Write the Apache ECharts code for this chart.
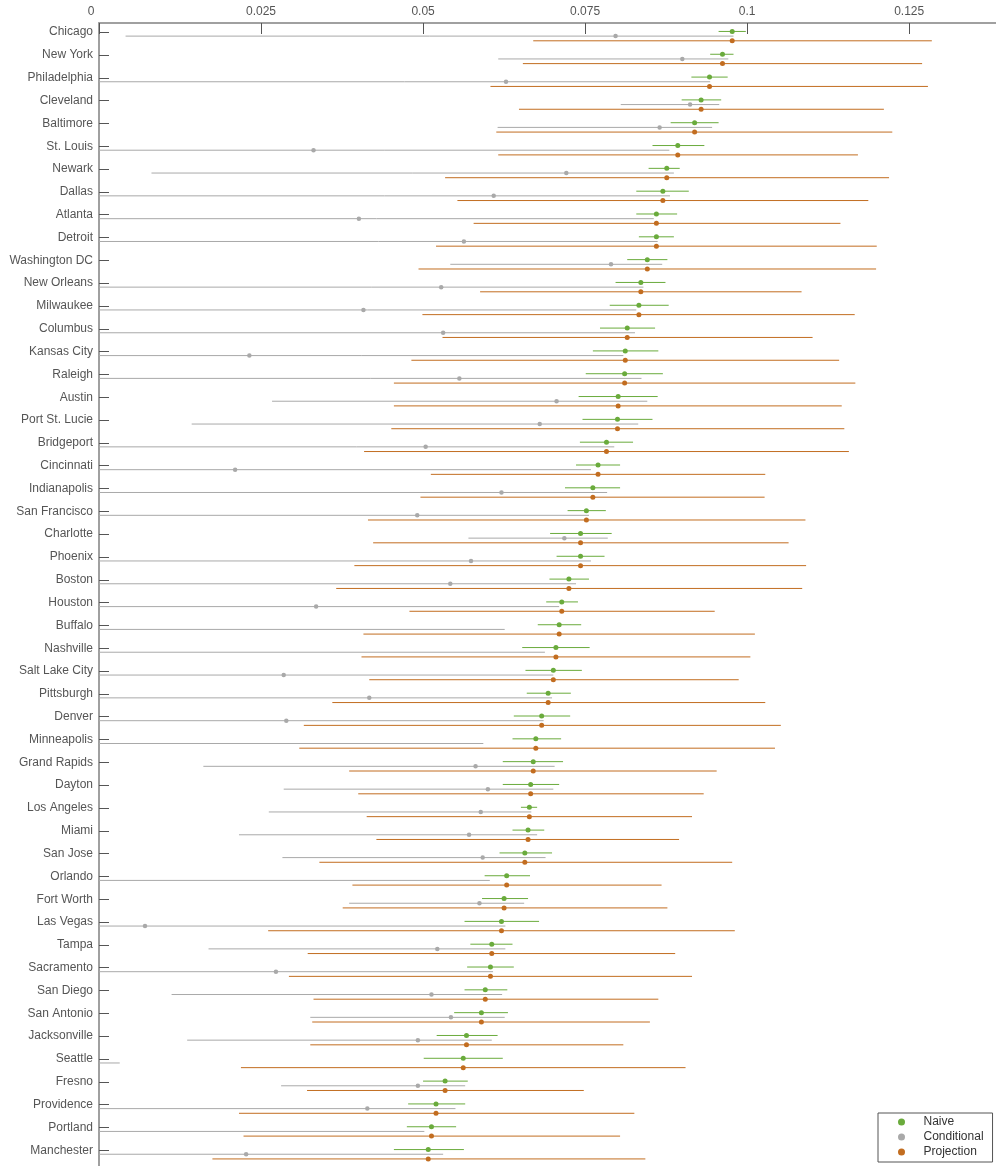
<!DOCTYPE html>
<html><head><meta charset="utf-8">
<script src="https://cdn.jsdelivr.net/npm/echarts@6/dist/echarts.min.js"></script>
<style>html,body{margin:0;padding:0;background:#fff}#c{width:996px;height:1166px}</style>
</head><body><div id="c"></div>
<script>
const cities = ['Chicago','New York','Philadelphia','Cleveland','Baltimore','St. Louis','Newark','Dallas','Atlanta','Detroit','Washington DC','New Orleans','Milwaukee','Columbus','Kansas City','Raleigh','Austin','Port St. Lucie','Bridgeport','Cincinnati','Indianapolis','San Francisco','Charlotte','Phoenix','Boston','Houston','Buffalo','Nashville','Salt Lake City','Pittsburgh','Denver','Minneapolis','Grand Rapids','Dayton','Los Angeles','Miami','San Jose','Orlando','Fort Worth','Las Vegas','Tampa','Sacramento','San Diego','San Antonio','Jacksonville','Seattle','Fresno','Providence','Portland','Manchester'];

const naiveEst = [0.0977,0.0962,0.0942,0.0929,0.0919,0.0893,0.0876,0.0870,0.0860,0.0860,0.0846,0.0836,0.0833,0.0815,0.0812,0.0811,0.0801,0.0800,0.0783,0.0770,0.0762,0.0752,0.0743,0.0743,0.0725,0.0714,0.0710,0.0705,0.0701,0.0693,0.0683,0.0674,0.0670,0.0666,0.0664,0.0662,0.0657,0.0629,0.0625,0.0621,0.0606,0.0604,0.0596,0.0590,0.0567,0.0562,0.0534,0.0520,0.0513,0.0508];
const naiveLo = [0.0956,0.0943,0.0914,0.0899,0.0882,0.0854,0.0848,0.0829,0.0829,0.0833,0.0815,0.0797,0.0788,0.0773,0.0762,0.0751,0.0740,0.0746,0.0742,0.0736,0.0719,0.0723,0.0696,0.0706,0.0695,0.0690,0.0677,0.0653,0.0658,0.0660,0.0640,0.0638,0.0623,0.0623,0.0651,0.0638,0.0618,0.0595,0.0591,0.0564,0.0573,0.0568,0.0564,0.0548,0.0521,0.0501,0.0500,0.0477,0.0475,0.0455];
const naiveHi = [0.0998,0.0979,0.0970,0.0960,0.0956,0.0934,0.0896,0.0910,0.0892,0.0887,0.0877,0.0874,0.0879,0.0858,0.0863,0.0870,0.0862,0.0854,0.0824,0.0804,0.0804,0.0782,0.0791,0.0780,0.0756,0.0739,0.0744,0.0757,0.0745,0.0728,0.0727,0.0713,0.0716,0.0710,0.0676,0.0687,0.0699,0.0665,0.0662,0.0679,0.0638,0.0640,0.0630,0.0631,0.0615,0.0623,0.0569,0.0565,0.0551,0.0563];

const condEst = [0.0797,0.0900,0.0628,0.0912,0.0865,0.0331,0.0721,0.0609,0.0401,0.0563,0.0790,0.0528,0.0408,0.0531,0.0232,0.0556,0.0706,0.0680,0.0504,0.0210,0.0621,0.0491,0.0718,0.0574,0.0542,0.0335,null,null,0.0285,0.0417,0.0289,null,0.0581,0.0600,0.0589,0.0571,0.0592,null,0.0587,0.0071,0.0522,0.0273,0.0513,0.0543,0.0492,null,0.0492,0.0414,null,0.0227];
const condLo = [0.0041,0.0616,0,0.0805,0.0615,0,0.0081,0,0,0,0.0542,0,0,0,0,0,0.0267,0.0143,0,0,0,0,0.0570,0,0,0,0,0,0,0,0,0,0.0161,0.0285,0.0262,0.0216,0.0283,0,0.0386,0,0.0169,0,0.0112,0.0326,0.0136,0,0.0281,0,0,0];
const condHi = [0.0979,0.0971,0.0943,0.0957,0.0946,0.0880,0.0887,0.0881,0.0856,0.0862,0.0869,0.0840,0.0829,0.0827,0.0809,0.0837,0.0846,0.0832,0.0795,0.0759,0.0784,0.0756,0.0785,0.0759,0.0736,0.0710,0.0626,0.0688,0.0701,0.0699,0.0686,0.0593,0.0703,0.0701,0.0667,0.0676,0.0689,0.0603,0.0656,0.0627,0.0627,0.0608,0.0622,0.0626,0.0606,0.0032,0.0565,0.0550,0.0502,0.0531];

const projEst = [0.0977,0.0962,0.0942,0.0929,0.0919,0.0893,0.0876,0.0870,0.0860,0.0860,0.0846,0.0836,0.0833,0.0815,0.0812,0.0811,0.0801,0.0800,0.0783,0.0770,0.0762,0.0752,0.0743,0.0743,0.0725,0.0714,0.0710,0.0705,0.0701,0.0693,0.0683,0.0674,0.0670,0.0666,0.0664,0.0662,0.0657,0.0629,0.0625,0.0621,0.0606,0.0604,0.0596,0.0590,0.0567,0.0562,0.0534,0.0520,0.0513,0.0508];
const projLo = [0.0670,0.0654,0.0604,0.0648,0.0613,0.0616,0.0534,0.0553,0.0578,0.0520,0.0493,0.0588,0.0499,0.0530,0.0482,0.0455,0.0455,0.0451,0.0409,0.0512,0.0496,0.0415,0.0423,0.0394,0.0366,0.0479,0.0408,0.0405,0.0417,0.0360,0.0316,0.0309,0.0386,0.0400,0.0413,0.0428,0.0340,0.0391,0.0376,0.0261,0.0322,0.0293,0.0331,0.0329,0.0326,0.0219,0.0321,0.0216,0.0223,0.0175];
const projHi = [0.1285,0.1270,0.1279,0.1211,0.1224,0.1171,0.1219,0.1187,0.1144,0.1200,0.1199,0.1084,0.1166,0.1101,0.1142,0.1167,0.1146,0.1150,0.1157,0.1028,0.1027,0.1090,0.1064,0.1091,0.1085,0.0950,0.1012,0.1005,0.0987,0.1028,0.1052,0.1043,0.0953,0.0933,0.0915,0.0895,0.0977,0.0868,0.0877,0.0981,0.0889,0.0915,0.0863,0.0850,0.0809,0.0905,0.0748,0.0826,0.0804,0.0843];

const xTicks = [0, 0.025, 0.05, 0.075, 0.1, 0.125];
const seriesNames = ['Naive', 'Conditional', 'Projection'];

const FONT = "'Liberation Sans', Arial, sans-serif";
const COLORS = {Naive: '#6aab3c', Conditional: '#a9a9a9', Projection: '#c26d20'};
const OFF = {Naive: -0.03, Conditional: 0.175, Projection: 0.38};
const idx = cities.map((c, i) => i);

function ciData(lo, hi, off) { return cities.map((c, i) => [lo[i], hi[i], i + off]); }
function ptData(est, off) { return est.map((v, i) => v == null ? null : [v, i + off]).filter(d => d); }
function ciRender(color) {
  return function (params, api) {
    const y = api.value(2);
    const a = api.coord([api.value(0), y]);
    const b = api.coord([api.value(1), y]);
    return {type: 'line', silent: true, shape: {x1: a[0], y1: a[1], x2: b[0], y2: b[1]},
      style: {stroke: color, lineWidth: 1}};
  };
}

const groups = [
  {name: 'Naive', est: naiveEst, lo: naiveLo, hi: naiveHi, size: 5},
  {name: 'Conditional', est: condEst, lo: condLo, hi: condHi, size: 4.5},
  {name: 'Projection', est: projEst, lo: projLo, hi: projHi, size: 5}
];
const series = [];
groups.forEach(g => {
  series.push({name: g.name, type: 'scatter', z: 3, symbol: 'circle', symbolSize: g.size,
    itemStyle: {color: COLORS[g.name], opacity: 1}, data: ptData(g.est, OFF[g.name]), animation: false});
});
groups.forEach(g => {
  series.push({name: g.name, type: 'custom', z: 2, itemStyle: {color: COLORS[g.name]},
    encode: {x: [0, 1], y: 2}, renderItem: ciRender(COLORS[g.name]),
    data: ciData(g.lo, g.hi, OFF[g.name]), animation: false});
});

const chart = echarts.init(document.getElementById('c'), null, {renderer: 'canvas'});
chart.setOption({
  backgroundColor: '#fff',
  animation: false,
  textStyle: {fontFamily: FONT},
  grid: {left: 99, right: 0, top: 23, bottom: 0, containLabel: false, outerBoundsMode: 'none'},
  legend: {
    data: seriesNames.map(n => ({name: n, icon: 'circle'})),
    orient: 'vertical', left: 878, top: 1113,
    borderColor: '#555', borderWidth: 1, padding: [3, 9, 4, 20],
    itemWidth: 34, itemHeight: 7, itemGap: 3,
    textStyle: {fontSize: 12, color: '#333', fontFamily: FONT},
    selectedMode: false
  },
  xAxis: {
    type: 'value', position: 'top', min: 0, max: 0.1384,
    axisLine: {show: true, onZero: false, lineStyle: {color: '#a0a0a0', width: 2}},
    axisTick: {show: true, inside: true, length: 11, customValues: xTicks, lineStyle: {color: '#555', width: 1}},
    axisLabel: {show: true, customValues: xTicks, margin: 5, fontSize: 12, color: '#555', fontFamily: FONT,
      formatter: v => v === 0 ? '{z|0}' : String(v),
      rich: {z: {padding: [0, 16, 0, 0], fontSize: 12, color: '#555', fontFamily: FONT}}},
    splitLine: {show: false}
  },
  yAxis: {
    type: 'value', inverse: true, min: -0.4, max: 49.69,
    axisLine: {show: true, onZero: false, lineStyle: {color: '#a0a0a0', width: 2}},
    axisTick: {show: true, inside: true, length: 10, customValues: idx, lineStyle: {color: '#555', width: 1}},
    axisLabel: {show: true, customValues: idx, margin: 6, fontSize: 12, color: '#555', fontFamily: FONT,
      formatter: v => cities[Math.round(v)]},
    splitLine: {show: false}
  },
  series: series
});
</script></body></html>
